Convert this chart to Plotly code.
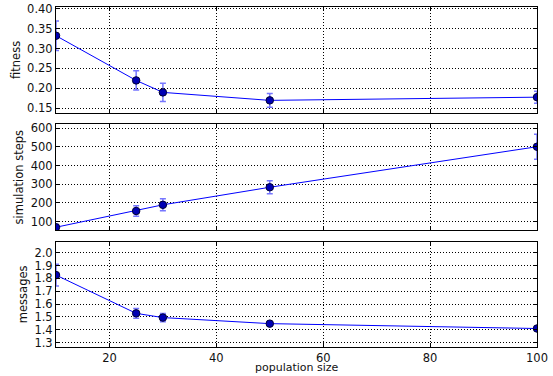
import plotly.graph_objects as go
from plotly.subplots import make_subplots

pop_size = [10, 25, 30, 50, 100]
fitness = [0.332, 0.220, 0.190, 0.170, 0.178]
fitness_err = [0.037, 0.024, 0.023, 0.017, 0.015]
steps = [70, 157, 190, 284, 501]
steps_err = [15, 28, 32, 35, 67]
messages = [1.826, 1.528, 1.495, 1.448, 1.410]
messages_err = [0.085, 0.038, 0.032, 0.010, 0.008]

fig = make_subplots(rows=3, cols=1, shared_xaxes=False, vertical_spacing=0.035)

series = [(fitness, fitness_err), (steps, steps_err), (messages, messages_err)]
for i, (vals, errs) in enumerate(series, start=1):
    fig.add_trace(go.Scatter(
        x=pop_size, y=vals, mode="lines+markers",
        line=dict(color="#0000ff", width=1),
        marker=dict(color="#0000b4", size=7.5, line=dict(color="#000033", width=1)),
        error_y=dict(type="data", array=errs, visible=True,
                     color="rgba(60,60,255,0.7)", thickness=1.5, width=3),
        showlegend=False,
    ), row=i, col=1)

font = dict(family="DejaVu Sans", size=11.5, color="#111111")
domains = [[0.689, 1.0], [0.344, 0.655], [0.0, 0.3097]]
yranges = [[0.139, 0.404], [55, 621], [1.266, 2.086]]
ydticks = [0.05, 100, 0.1]
yfmts = [".2f", "d", ".1f"]
ytitles = ["fitness", "simulation steps", "messages"]

common = dict(showline=True, linecolor="black", linewidth=1, mirror="allticks",
              ticks="inside", ticklen=4, tickcolor="black",
              showgrid=True, gridcolor="black", gridwidth=1, griddash="1px,2px",
              zeroline=False, tickfont=font, automargin=False)

for i in range(3):
    xa = "xaxis" if i == 0 else f"xaxis{i+1}"
    ya = "yaxis" if i == 0 else f"yaxis{i+1}"
    fig.layout[xa].update(range=[10, 100], tickvals=[20, 40, 60, 80, 100],
                          showticklabels=(i == 2), **common)
    fig.layout[ya].update(domain=domains[i], range=yranges[i], dtick=ydticks[i],
                          tick0=0, tickformat=yfmts[i],
                          title=dict(text=ytitles[i], font=font, standoff=4),
                          **common)

fig.add_annotation(text="population size", xref="paper", yref="paper",
                   x=0.5, y=0, xanchor="center", yanchor="bottom", yshift=-28,
                   showarrow=False, borderpad=0,
                   font=dict(family="DejaVu Sans", size=11, color="#111111"))

fig.update_layout(
    width=553, height=376,
    margin=dict(l=56, r=16, t=7, b=29),
    plot_bgcolor="white", paper_bgcolor="white",
    font=font,
)

fig.write_html("out.html", config={"displayModeBar": False},
               post_script="document.body.style.margin='0';document.body.style.overflow='hidden';")
